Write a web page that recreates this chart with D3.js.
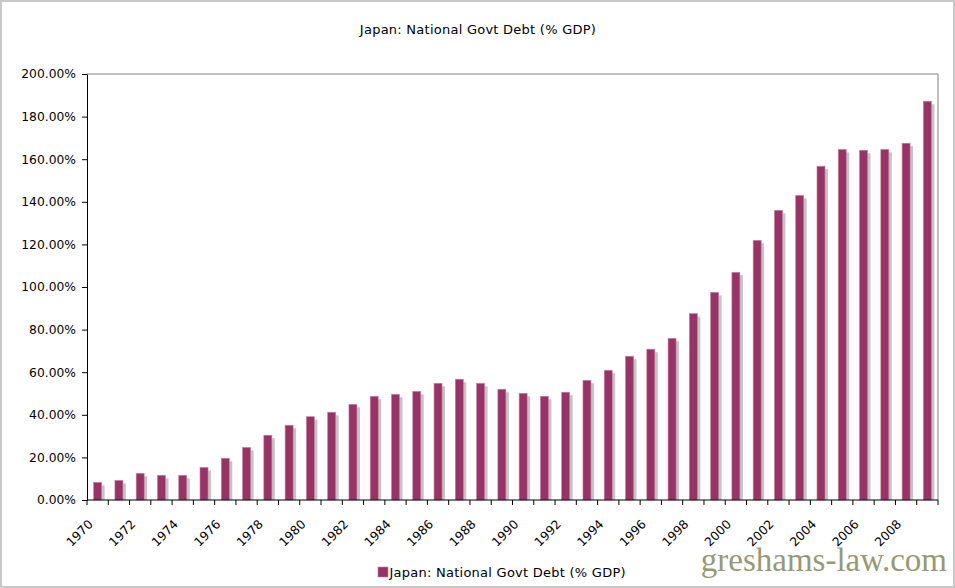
<!DOCTYPE html>
<html>
<head>
<meta charset="utf-8">
<script src="https://cdn.jsdelivr.net/npm/d3@7"></script>
<style>
  body { margin: 0; background: #fff; }
</style>
</head>
<body>
<div id="chart"></div>
<script>
const width = 955, height = 588;

// data
const years = d3.range(1970, 2010).map(String);
const debt = [
  0.083, 0.092, 0.125, 0.116, 0.116, 0.153, 0.196, 0.247, 0.304, 0.351,
  0.391, 0.412, 0.449, 0.487, 0.496, 0.510, 0.548, 0.567, 0.548, 0.520,
  0.501, 0.487, 0.506, 0.562, 0.609, 0.675, 0.708, 0.759, 0.875, 0.975,
  1.069, 1.219, 1.360, 1.430, 1.567, 1.646, 1.642, 1.646, 1.675, 1.872
];
const yTicks = [0, 0.2, 0.4, 0.6, 0.8, 1.0, 1.2, 1.4, 1.6, 1.8, 2.0];
const seriesName = "Japan: National Govt Debt (% GDP)";

const margin = { top: 74, right: 17, bottom: 88, left: 87 };
const sans = "DejaVu Sans, Verdana, sans-serif";

const svg = d3.select("#chart")
  .append("svg")
  .attr("width", width)
  .attr("height", height)
  .attr("font-family", sans);

// outer frame
svg.append("rect")
  .attr("x", 1).attr("y", 1)
  .attr("width", width - 2).attr("height", height - 2)
  .attr("fill", "#fff")
  .attr("stroke", "#c8c8c8")
  .attr("stroke-width", 2);

const x = d3.scaleBand()
  .domain(years)
  .range([margin.left, width - margin.right]);

const y = d3.scaleLinear()
  .domain([0, 2])
  .range([height - margin.bottom, margin.top]);

// title
svg.append("text")
  .attr("x", 478)
  .attr("y", 34)
  .attr("text-anchor", "middle")
  .attr("font-size", 13)
  .attr("letter-spacing", 0.25)
  .attr("fill", "#000")
  .text(seriesName);

// plot border (top / right)
svg.append("path")
  .attr("d", `M${x.range()[0]},${y(2)}H${x.range()[1]}V${y(0)}`)
  .attr("fill", "none")
  .attr("stroke", "#808080")
  .attr("stroke-width", 1);

const barW = 8, off = 3;

// shadows
svg.append("g").selectAll("rect")
  .data(debt)
  .enter()
  .append("rect")
  .attr("x", (d, i) => x(years[i]) + x.bandwidth() / 2 - barW / 2 + off)
  .attr("y", d => y(d) + off)
  .attr("width", barW)
  .attr("height", d => Math.max(0, y(0) - y(d) - off))
  .attr("fill", "#c4c4c4");

// bars
svg.append("g").selectAll("rect")
  .data(debt)
  .enter()
  .append("rect")
  .attr("x", (d, i) => x(years[i]) + x.bandwidth() / 2 - barW / 2)
  .attr("y", d => y(d))
  .attr("width", barW)
  .attr("height", d => y(0) - y(d))
  .attr("fill", "#993366")
  .attr("stroke", "#c7819f")
  .attr("stroke-width", 0.6);

// y axis
const yAxis = svg.append("g")
  .attr("transform", `translate(${margin.left},0)`)
  .call(d3.axisLeft(y).tickValues(yTicks).tickFormat(d3.format(".2%")).tickSize(5).tickPadding(6).tickSizeOuter(0));
yAxis.attr("font-family", sans).attr("font-size", 12.3);
yAxis.select(".domain").attr("stroke", "#000");
yAxis.selectAll("text").attr("fill", "#000");

// x axis: ticks at category boundaries
const xg = svg.append("g");
xg.append("line")
  .attr("x1", x.range()[0]).attr("x2", x.range()[1])
  .attr("y1", y(0)).attr("y2", y(0))
  .attr("stroke", "#000");
xg.selectAll(".tick")
  .data(years.concat(["end"]))
  .enter()
  .append("line")
  .attr("x1", (d, i) => x.range()[0] + i * x.step())
  .attr("x2", (d, i) => x.range()[0] + i * x.step())
  .attr("y1", y(0)).attr("y2", y(0) + 5)
  .attr("stroke", "#000");

xg.selectAll(".lbl")
  .data(years.filter((d, i) => i % 2 === 0))
  .enter()
  .append("text")
  .attr("transform", d => `translate(${x(d) + x.bandwidth() / 2 - 7},${y(0) + 22}) rotate(-45)`)
  .attr("text-anchor", "end")
  .attr("dy", "0.35em")
  .attr("font-size", 12.3)
  .attr("fill", "#000")
  .text(d => d);

// legend
const legend = svg.append("g").attr("transform", "translate(378,567)");
legend.append("rect")
  .attr("width", 10).attr("height", 10)
  .attr("fill", "#993366")
  .attr("stroke", "#c7819f")
  .attr("stroke-width", 0.6);
legend.append("text")
  .attr("x", 11.5)
  .attr("y", 9.5)
  .attr("font-size", 13)
  .attr("letter-spacing", 0.25)
  .attr("fill", "#000")
  .text(seriesName);

// watermark
svg.append("text")
  .attr("x", 947)
  .attr("y", 571)
  .attr("text-anchor", "end")
  .attr("font-family", "Liberation Serif, Times New Roman, serif")
  .attr("font-size", 33)
  .attr("fill", "#979a72")
  .text("greshams-law.com");
</script>
</body>
</html>
